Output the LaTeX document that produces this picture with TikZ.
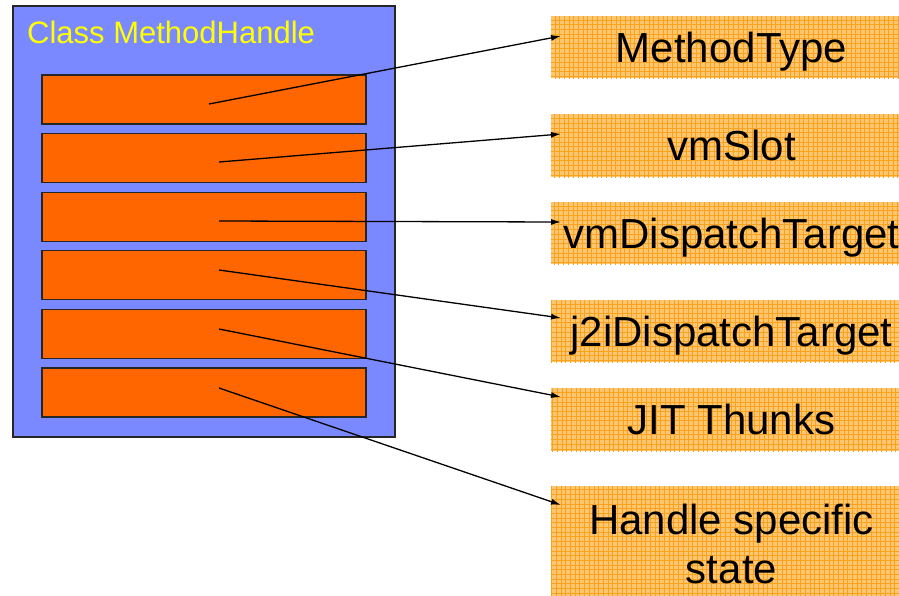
\documentclass[tikz,border=0pt]{standalone}
\usepackage{fontspec}
\setmainfont{Liberation Sans}
\usetikzlibrary{arrows.meta}
\definecolor{classblue}{RGB}{122,137,255}
\definecolor{fieldorange}{RGB}{255,102,0}
\definecolor{tagfill}{RGB}{255,198,112}
\definecolor{tagline}{RGB}{248,162,32}
\definecolor{titleyellow}{RGB}{255,255,0}
\begin{document}
\begin{tikzpicture}[x=1pt,y=-1pt,
  classbox/.style={draw=black!85, line width=1.3pt, fill=classblue, anchor=north west, inner sep=0pt, outer sep=0pt},
  field/.style={draw=black!85, line width=1.3pt, fill=fieldorange, anchor=north west, inner sep=0pt, outer sep=0pt, minimum width=324pt, minimum height=49pt},
  tag/.style={fill=tagfill, anchor=north west, inner sep=0pt, outer sep=0pt, minimum width=361pt, align=center,
    text depth=0pt, font=\fontsize{42}{49}\selectfont,
    path picture={\draw[tagline, line width=0.6pt] ([xshift=-2pt,yshift=-2pt]path picture bounding box.south west) grid[step=4.7pt] ([xshift=2pt,yshift=2pt]path picture bounding box.north east);}},
  link/.style={line width=1.3pt, -{Latex[length=10pt,width=6pt]}}
]
\clip (0,0) rectangle (899,595);
\useasboundingbox (0,0) rectangle (899,595);
\fill[white] (0,0) rectangle (899,595);

\node[classbox, minimum width=382pt, minimum height=431pt] (cls) at (13,6) {};
\node[anchor=base west, text=titleyellow, font=\fontsize{31}{36}\selectfont, inner sep=0pt] (title) at (27,43) {Class MethodHandle};

\node[field] (f1) at (42,75) {};
\node[field] (f2) at (42,133.6) {};
\node[field] (f3) at (42,192.2) {};
\node[field] (f4) at (42,250.8) {};
\node[field] (f5) at (42,309.4) {};
\node[field] (f6) at (42,368) {};

\node[tag, minimum height=62pt] (t1) at (551,16) {MethodType};
\node[tag, minimum height=63pt] (t2) at (551,114) {vmSlot};
\node[tag, minimum height=62pt] (t3) at (551,202) {vmDispatchTarget};
\node[tag, minimum height=62pt] (t4) at (551,300) {j2iDispatchTarget};
\node[tag, minimum height=63pt] (t5) at (551,388) {JIT Thunks};
\node[tag, minimum height=116pt] (t6) at (551,486) {Handle specific\\state};

\coordinate (s1) at (209,104);
\coordinate (s2) at (219,162);
\coordinate (s3) at (219,221);
\coordinate (s4) at (219,270);
\coordinate (s5) at (219,329);
\coordinate (s6) at (219,388);
\coordinate (e1) at (561,36);
\coordinate (e2) at (561,134);
\coordinate (e3) at (561,222);
\coordinate (e4) at (561,318);
\coordinate (e5) at (561,397);
\coordinate (e6) at (561,505);

\draw[link] (s1) -- (e1);
\draw[link] (s2) -- (e2);
\draw[link] (s3) -- (e3);
\draw[link] (s4) -- (e4);
\draw[link] (s5) -- (e5);
\draw[link] (s6) -- (e6);
\end{tikzpicture}
\end{document}
